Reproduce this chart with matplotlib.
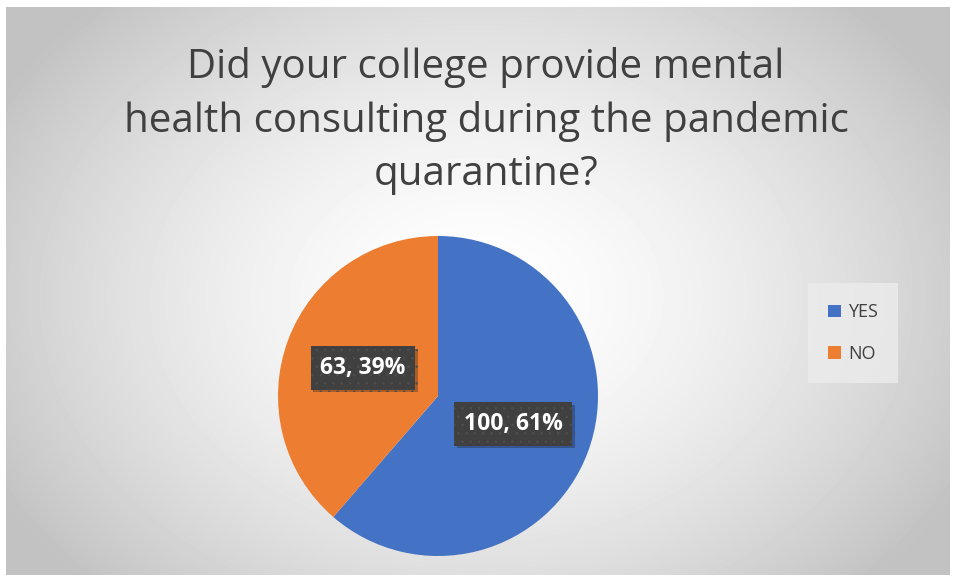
import matplotlib
matplotlib.use("Agg")
import matplotlib.pyplot as plt
import matplotlib.patheffects as pe
import numpy as np

# ── Data ────────────────────────────────────────────────────────────────
labels = ["YES", "NO"]
counts = [100, 63]
colors = ["#4472C4", "#ED7D31"]
title = "Did your college provide mental\nhealth consulting during the pandemic\nquarantine?"

plt.rcParams["font.family"] = ["Open Sans", "DejaVu Sans"]
plt.rcParams["hatch.linewidth"] = 0.6

W, H = 957, 580
fig = plt.figure(figsize=(W / 100, H / 100), dpi=100)
fig.patch.set_facecolor("white")

# radial grey background behind the chart area
bg = fig.add_axes([6 / W, 5 / H, 944 / W, 568 / H])
yy, xx = np.mgrid[0:568, 0:944]
r = np.hypot((xx - 470) / 560, (yy - 290) / 420)
shade = np.clip(1.0 - 0.25 * r ** 1.6, 0.76, 1.0)
bg.imshow(shade, cmap="gray", vmin=0, vmax=1, aspect="auto", interpolation="bilinear")
bg.axis("off")

fig.text(486 / W, 1 - 121 / H, title, ha="center", va="center",
         fontsize=29, color="#404040", linespacing=1.42)

# pie
R = 160
ax = fig.add_axes([(438 - R) / W, 1 - (396 + R) / H, 2 * R / W, 2 * R / H])
total = sum(counts)
wedges, _, autotexts = ax.pie(
    counts, colors=colors, startangle=90, counterclock=False,
    autopct=lambda p: f"{round(p * total / 100)}, {p:.0f}%",
    pctdistance=0.5, textprops=dict(color="white", fontsize=16.5, fontweight="bold"))
for t in autotexts:
    t.set_bbox(dict(boxstyle="square,pad=0.42", facecolor="#404040",
                    edgecolor="#4e4e4e", linewidth=0, hatch=".."))
    t.get_bbox_patch().set_path_effects(
        [pe.SimplePatchShadow(offset=(2, -2), alpha=0.3), pe.Normal()])
ax.set_xlim(-1, 1)
ax.set_ylim(-1, 1)
ax.set_aspect("equal")

# legend
leg = fig.legend(wedges, labels, loc="center", bbox_to_anchor=(853 / W, 1 - 333 / H),
                 frameon=True, fontsize=13, handlelength=0.7, handleheight=0.7,
                 labelspacing=1.3, borderpad=0.8, handletextpad=0.4)
leg.get_frame().set_facecolor("#ececec")
leg.get_frame().set_edgecolor("none")
leg.get_frame().set_boxstyle("square")
for txt in leg.get_texts():
    txt.set_color("#404040")

fig.savefig("out.png", dpi=100)
